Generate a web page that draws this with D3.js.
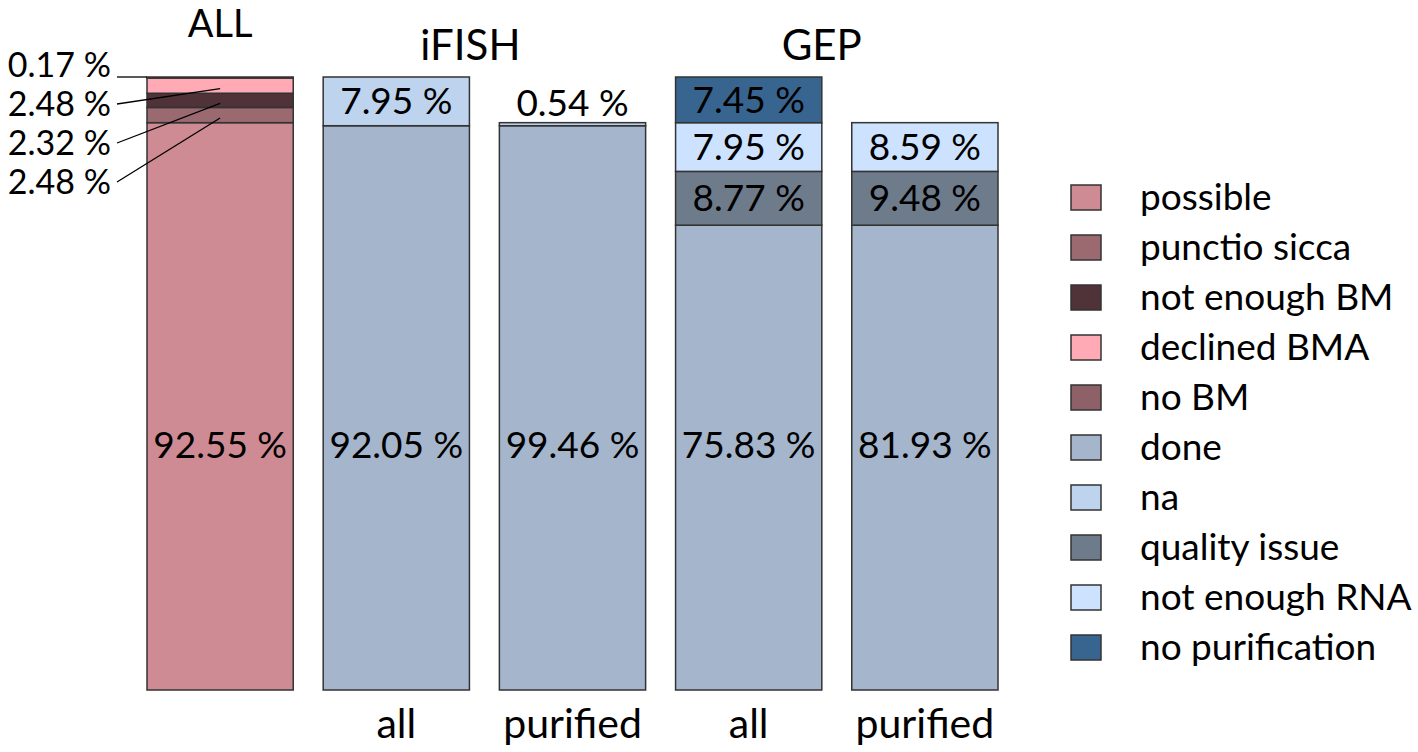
<!DOCTYPE html>
<html>
<head>
<meta charset="utf-8">
<script src="https://cdn.jsdelivr.net/npm/d3@7"></script>
<style>
  html, body { margin: 0; padding: 0; background: #fff; }
  svg { display: block; }
  text { font-family: Lato, "Open Sans", sans-serif; fill: #000; }
</style>
</head>
<body>
<svg id="chart" width="1418" height="752"></svg>
<script>
// ---------- data ----------
const barIds = ["ALL", "iFISH_all", "iFISH_purified", "GEP_all", "GEP_purified"];
const barLabels = ["", "all", "purified", "all", "purified"];
const groupTitles = ["ALL", "iFISH", "GEP"];
const groupBars = [["ALL"], ["iFISH_all", "iFISH_purified"], ["GEP_all", "GEP_purified"]];
// relative size of each bar (purified = samples remaining after purification)
const barTotals = [100, 100, 92.55, 100, 92.55];

const seriesKeys = ["possible", "punctio sicca", "not enough BM", "declined BMA", "no BM",
                    "done", "na", "quality issue", "not enough RNA", "no purification"];
const possible       = [92.55, 0, 0, 0, 0];
const punctioSicca   = [2.48, 0, 0, 0, 0];
const notEnoughBM    = [2.32, 0, 0, 0, 0];
const declinedBMA    = [2.48, 0, 0, 0, 0];
const noBM           = [0.17, 0, 0, 0, 0];
const done           = [0, 92.05, 99.46, 75.83, 81.93];
const na             = [0, 7.95, 0.54, 0, 0];
const qualityIssue   = [0, 0, 0, 8.77, 9.48];
const notEnoughRNA   = [0, 0, 0, 7.95, 8.59];
const noPurification = [0, 0, 0, 7.45, 0];
const seriesValues = [possible, punctioSicca, notEnoughBM, declinedBMA, noBM,
                      done, na, qualityIssue, notEnoughRNA, noPurification];
const seriesColors = ["#CE8B94", "#9B6A71", "#4F3338", "#FFAAB4", "#8E6169",
                      "#A4B5CC", "#BDD3EE", "#6E7B8B", "#CCE2FF", "#386590"];

// ---------- layout ----------
const svg = d3.select("#chart");
const x = d3.scaleBand().domain(barIds).range([147, 998]).paddingInner(0.17).paddingOuter(0);
const y = d3.scaleLinear().domain([0, 100]).range([690, 77]);
const color = d3.scaleOrdinal().domain(seriesKeys).range(seriesColors);
const fmt = v => d3.format(".2f")(v) + " %";

// rows scaled by bar totals
const rows = barIds.map((id, i) => {
  const r = { id, total: barTotals[i] };
  seriesKeys.forEach((k, j) => { r[k] = seriesValues[j][i] * barTotals[i] / 100; r["pct_" + k] = seriesValues[j][i]; });
  return r;
});
const stacked = d3.stack().keys(seriesKeys)(rows);

const segs = [];
stacked.forEach(layer => {
  layer.forEach(d => {
    const pct = d.data["pct_" + layer.key];
    if (pct > 0) segs.push({ key: layer.key, id: d.data.id, y0: d[0], y1: d[1], pct });
  });
});

const STROKE = "#333";
svg.append("g").selectAll("rect").data(segs).join("rect")
  .attr("x", d => x(d.id))
  .attr("width", x.bandwidth())
  .attr("y", d => y(d.y1))
  .attr("height", d => Math.max(0.01, y(d.y0) - y(d.y1)))
  .attr("fill", d => color(d.key))
  .attr("stroke", STROKE)
  .attr("stroke-width", 1.5);

// ---------- segment labels ----------
const FS = 37;
const lbl = svg.append("g").attr("font-size", FS);
const bigKeys = ["possible", "done"];
segs.forEach(d => {
  const cx = x(d.id) + x.bandwidth() / 2;
  if (bigKeys.includes(d.key)) {
    lbl.append("text").attr("x", cx).attr("y", y(40)).attr("dy", "0.35em")
      .attr("text-anchor", "middle").text(fmt(d.pct));
  } else if (d.id === "ALL") {
    // handled below as external labels
  } else if (y(d.y0) - y(d.y1) < 20) {
    lbl.append("text").attr("x", cx).attr("y", y(d.y1) - 20).attr("dy", "0.35em")
      .attr("text-anchor", "middle").text(fmt(d.pct));
  } else {
    lbl.append("text").attr("x", cx).attr("y", (y(d.y0) + y(d.y1)) / 2).attr("dy", "0.35em")
      .attr("text-anchor", "middle").text(fmt(d.pct));
  }
});

// external labels for ALL small segments, top to bottom
const allSmall = segs.filter(d => d.id === "ALL" && !bigKeys.includes(d.key)).sort((a, b) => b.y1 - a.y1);
const ext = svg.append("g");
allSmall.forEach((d, i) => {
  const ly = 65 + i * 39;
  ext.append("text").attr("x", 111).attr("y", ly).attr("dy", "0.35em")
    .attr("text-anchor", "end").attr("font-size", 34).text(fmt(d.pct));
  const midY = (y(d.y0) + y(d.y1)) / 2;
  if (i === 0) {
    ext.append("line").attr("x1", 117).attr("y1", y(d.y1)).attr("x2", x(d.id)).attr("y2", y(d.y1))
      .attr("stroke", "#000").attr("stroke-width", 1.3);
  } else {
    ext.append("line").attr("x1", 117).attr("y1", ly).attr("x2", x(d.id) + x.bandwidth() / 2).attr("y2", midY + 3)
      .attr("stroke", "#000").attr("stroke-width", 1.3);
  }
});

// ---------- titles and category labels ----------
const titleY = [37, 60, 60];
const titleSize = [38, 42, 42];
const titleShift = [0, -14, -15];
groupTitles.forEach((t, i) => {
  const ids = groupBars[i];
  const cx = (x(ids[0]) + x(ids[ids.length - 1]) + x.bandwidth()) / 2 + titleShift[i];
  svg.append("text").attr("x", cx).attr("y", titleY[i]).attr("text-anchor", "middle")
    .attr("font-size", titleSize[i]).text(t);
});
svg.append("g").selectAll("text").data(barIds).join("text")
  .attr("x", d => x(d) + x.bandwidth() / 2)
  .attr("y", 738)
  .attr("text-anchor", "middle")
  .attr("font-size", 41)
  .text((d, i) => barLabels[i]);

// ---------- legend ----------
const legend = svg.append("g").attr("transform", "translate(1071,185)");
const li = legend.selectAll("g").data(seriesKeys).join("g")
  .attr("transform", (d, i) => `translate(0,${i * 50})`);
li.append("rect").attr("width", 30).attr("height", 25)
  .attr("fill", d => color(d)).attr("stroke", STROKE).attr("stroke-width", 1.5);
li.append("text").attr("x", 69).attr("y", 12.5).attr("dy", "0.35em")
  .attr("font-size", FS).text(d => d);
</script>
</body>
</html>
